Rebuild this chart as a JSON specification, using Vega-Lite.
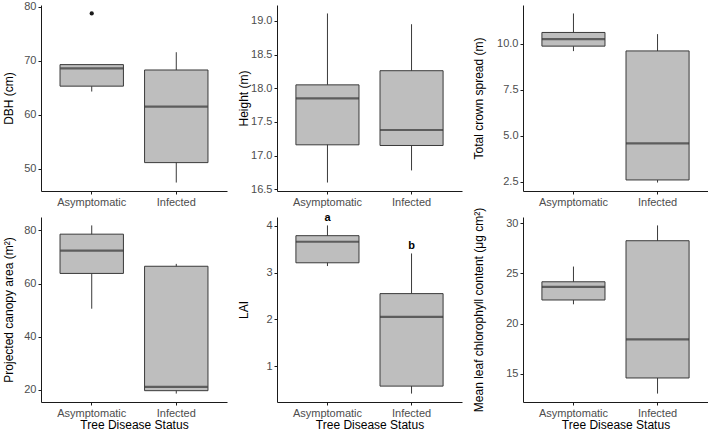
{
  "$schema": "https://vega.github.io/schema/vega-lite/v6.json",
  "padding": {"left": 2, "top": 0, "right": 0, "bottom": 0},
  "columns": 3,
  "align": "each",
  "bounds": "full",
  "spacing": {"row": 0, "column": 10},
  "config": {
    "view": {"stroke": null},
    "font": "Liberation Sans",
    "axis": {
      "grid": false,
      "domainColor": "#1a1a1a",
      "domainWidth": 1,
      "tickColor": "#1a1a1a",
      "tickSize": 3,
      "labelColor": "#4d4d4d",
      "labelFontSize": 11,
      "labelFont": "Liberation Sans",
      "labelPadding": 2,
      "labelOverlap": false,
      "titleFont": "Liberation Sans",
      "titleFontSize": 12,
      "titleFontWeight": "normal",
      "titleColor": "#000000"
    },
    "axisX": {"labelAngle": 0, "minExtent": 16, "maxExtent": 16, "titlePadding": 1}
  },
  "datasets": {
    "boxes": [
      {"panel": "DBH", "status": "Asymptomatic", "lower": 64.3, "q1": 65.3, "median": 68.6, "q3": 69.3, "upper": 69.3},
      {"panel": "DBH", "status": "Infected", "lower": 47.4, "q1": 51.1, "median": 61.5, "q3": 68.3, "upper": 71.6},
      {"panel": "Height", "status": "Asymptomatic", "lower": 16.6, "q1": 17.16, "median": 17.85, "q3": 18.05, "upper": 19.11},
      {"panel": "Height", "status": "Infected", "lower": 16.78, "q1": 17.15, "median": 17.38, "q3": 18.26, "upper": 18.95},
      {"panel": "Crown", "status": "Asymptomatic", "lower": 9.59, "q1": 9.86, "median": 10.24, "q3": 10.6, "upper": 11.63},
      {"panel": "Crown", "status": "Infected", "lower": 2.47, "q1": 2.61, "median": 4.59, "q3": 9.6, "upper": 10.51},
      {"panel": "Canopy", "status": "Asymptomatic", "lower": 50.5, "q1": 63.8, "median": 72.4, "q3": 78.6, "upper": 81.9},
      {"panel": "Canopy", "status": "Infected", "lower": 18.5, "q1": 19.6, "median": 21.0, "q3": 66.5, "upper": 67.4},
      {"panel": "LAI", "status": "Asymptomatic", "lower": 3.14, "q1": 3.21, "median": 3.66, "q3": 3.79, "upper": 4.01, "letter": "a"},
      {"panel": "LAI", "status": "Infected", "lower": 0.41, "q1": 0.57, "median": 2.05, "q3": 2.55, "upper": 3.41, "letter": "b"},
      {"panel": "Chl", "status": "Asymptomatic", "lower": 21.92, "q1": 22.35, "median": 23.67, "q3": 24.17, "upper": 25.69},
      {"panel": "Chl", "status": "Infected", "lower": 13.0, "q1": 14.56, "median": 18.41, "q3": 28.27, "upper": 29.8}
    ],
    "outliers": [
      {"panel": "DBH", "status": "Asymptomatic", "value": 78.8}
    ]
  },
  "concat": [
    {
      "width": 186, "height": 186,
      "data": {"name": "boxes"},
      "transform": [{"filter": "datum.panel === 'DBH'"}],
      "encoding": {"x": {"field": "status", "type": "nominal", "scale": {"paddingInner": 0.25, "paddingOuter": 0.225}, "axis": {"title": null}}},
      "layer": [
        {"mark": {"type": "rule", "color": "#3a3a3a", "strokeWidth": 1},
         "encoding": {"y": {"field": "lower", "type": "quantitative", "title": "DBH (cm)",
           "scale": {"domain": [45.83, 80.37], "nice": false, "zero": false},
           "axis": {"values": [50, 60, 70, 80], "tickCount": 10, "format": "d", "minExtent": 18, "maxExtent": 18, "titlePadding": 8}},
           "y2": {"field": "upper"}}},
        {"mark": {"type": "bar", "fill": "#bebebe", "stroke": "#3a3a3a", "strokeWidth": 1},
         "encoding": {"y": {"field": "q1", "type": "quantitative", "title": "DBH (cm)"}, "y2": {"field": "q3"}}},
        {"mark": {"type": "tick", "color": "#333333", "thickness": 2.2, "size": 63},
         "encoding": {"y": {"field": "median", "type": "quantitative", "title": "DBH (cm)"}}},
        {"data": {"name": "outliers"},
         "transform": [{"filter": "datum.panel === 'DBH'"}],
         "mark": {"type": "point", "filled": true, "color": "#1a1a1a", "size": 18, "opacity": 1},
         "encoding": {"y": {"field": "value", "type": "quantitative", "title": "DBH (cm)"}}}
      ]
    },
    {
      "width": 185, "height": 186,
      "data": {"name": "boxes"},
      "transform": [{"filter": "datum.panel === 'Height'"}],
      "encoding": {"x": {"field": "status", "type": "nominal", "scale": {"paddingInner": 0.25, "paddingOuter": 0.225}, "axis": {"title": null}}},
      "layer": [
        {"mark": {"type": "rule", "color": "#3a3a3a", "strokeWidth": 1},
         "encoding": {"y": {"field": "lower", "type": "quantitative", "title": "Height (m)",
           "scale": {"domain": [16.4745, 19.2355], "nice": false, "zero": false},
           "axis": {"values": [16.5, 17.0, 17.5, 18.0, 18.5, 19.0], "tickCount": 10, "format": ".1f", "minExtent": 27, "maxExtent": 27, "titlePadding": 0}},
           "y2": {"field": "upper"}}},
        {"mark": {"type": "bar", "fill": "#bebebe", "stroke": "#3a3a3a", "strokeWidth": 1},
         "encoding": {"y": {"field": "q1", "type": "quantitative", "title": "Height (m)"}, "y2": {"field": "q3"}}},
        {"mark": {"type": "tick", "color": "#333333", "thickness": 2.2, "size": 63},
         "encoding": {"y": {"field": "median", "type": "quantitative", "title": "Height (m)"}}}
      ]
    },
    {
      "width": 185, "height": 186,
      "data": {"name": "boxes"},
      "transform": [{"filter": "datum.panel === 'Crown'"}],
      "encoding": {"x": {"field": "status", "type": "nominal", "scale": {"paddingInner": 0.25, "paddingOuter": 0.225}, "axis": {"title": null}}},
      "layer": [
        {"mark": {"type": "rule", "color": "#3a3a3a", "strokeWidth": 1},
         "encoding": {"y": {"field": "lower", "type": "quantitative", "title": "Total crown spread (m)",
           "scale": {"domain": [2.012, 12.088], "nice": false, "zero": false},
           "axis": {"values": [2.5, 5.0, 7.5, 10.0], "tickCount": 10, "format": ".1f", "minExtent": 27, "maxExtent": 27, "titlePadding": 11}},
           "y2": {"field": "upper"}}},
        {"mark": {"type": "bar", "fill": "#bebebe", "stroke": "#3a3a3a", "strokeWidth": 1},
         "encoding": {"y": {"field": "q1", "type": "quantitative", "title": "Total crown spread (m)"}, "y2": {"field": "q3"}}},
        {"mark": {"type": "tick", "color": "#333333", "thickness": 2.2, "size": 63},
         "encoding": {"y": {"field": "median", "type": "quantitative", "title": "Total crown spread (m)"}}}
      ]
    },
    {
      "width": 186, "height": 185,
      "data": {"name": "boxes"},
      "transform": [{"filter": "datum.panel === 'Canopy'"}],
      "encoding": {"x": {"field": "status", "type": "nominal", "scale": {"paddingInner": 0.25, "paddingOuter": 0.225}, "axis": {"title": "Tree Disease Status"}}},
      "layer": [
        {"mark": {"type": "rule", "color": "#3a3a3a", "strokeWidth": 1},
         "encoding": {"y": {"field": "lower", "type": "quantitative", "title": "Projected canopy area (m²)",
           "scale": {"domain": [15.33, 85.07], "nice": false, "zero": false},
           "axis": {"values": [20, 40, 60, 80], "tickCount": 10, "format": "d", "minExtent": 18, "maxExtent": 18, "titlePadding": 8}},
           "y2": {"field": "upper"}}},
        {"mark": {"type": "bar", "fill": "#bebebe", "stroke": "#3a3a3a", "strokeWidth": 1},
         "encoding": {"y": {"field": "q1", "type": "quantitative", "title": "Projected canopy area (m²)"}, "y2": {"field": "q3"}}},
        {"mark": {"type": "tick", "color": "#333333", "thickness": 2.2, "size": 63},
         "encoding": {"y": {"field": "median", "type": "quantitative", "title": "Projected canopy area (m²)"}}}
      ]
    },
    {
      "width": 185, "height": 185,
      "data": {"name": "boxes"},
      "transform": [{"filter": "datum.panel === 'LAI'"}],
      "encoding": {"x": {"field": "status", "type": "nominal", "scale": {"paddingInner": 0.25, "paddingOuter": 0.225}, "axis": {"title": "Tree Disease Status"}}},
      "layer": [
        {"mark": {"type": "rule", "color": "#3a3a3a", "strokeWidth": 1},
         "encoding": {"y": {"field": "lower", "type": "quantitative", "title": "LAI",
           "scale": {"domain": [0.23, 4.19], "nice": false, "zero": false},
           "axis": {"values": [1, 2, 3, 4], "tickCount": 10, "format": "d", "minExtent": 27, "maxExtent": 27, "titlePadding": 0}},
           "y2": {"field": "upper"}}},
        {"mark": {"type": "bar", "fill": "#bebebe", "stroke": "#3a3a3a", "strokeWidth": 1},
         "encoding": {"y": {"field": "q1", "type": "quantitative", "title": "LAI"}, "y2": {"field": "q3"}}},
        {"mark": {"type": "tick", "color": "#333333", "thickness": 2.2, "size": 63},
         "encoding": {"y": {"field": "median", "type": "quantitative", "title": "LAI"}}},
        {"mark": {"type": "text", "dy": -7, "baseline": "middle", "fontWeight": "bold", "fontSize": 11, "color": "#000000"},
         "encoding": {"y": {"field": "upper", "type": "quantitative", "title": "LAI"}, "text": {"field": "letter"}}}
      ]
    },
    {
      "width": 185, "height": 185,
      "data": {"name": "boxes"},
      "transform": [{"filter": "datum.panel === 'Chl'"}],
      "encoding": {"x": {"field": "status", "type": "nominal", "scale": {"paddingInner": 0.25, "paddingOuter": 0.225}, "axis": {"title": "Tree Disease Status"}}},
      "layer": [
        {"mark": {"type": "rule", "color": "#3a3a3a", "strokeWidth": 1},
         "encoding": {"y": {"field": "lower", "type": "quantitative", "title": "Mean leaf chlorophyll content (μg cm²)",
           "scale": {"domain": [12.16, 30.64], "nice": false, "zero": false},
           "axis": {"values": [15, 20, 25, 30], "tickCount": 10, "format": "d", "minExtent": 27, "maxExtent": 27, "titlePadding": 11}},
           "y2": {"field": "upper"}}},
        {"mark": {"type": "bar", "fill": "#bebebe", "stroke": "#3a3a3a", "strokeWidth": 1},
         "encoding": {"y": {"field": "q1", "type": "quantitative", "title": "Mean leaf chlorophyll content (μg cm²)"}, "y2": {"field": "q3"}}},
        {"mark": {"type": "tick", "color": "#333333", "thickness": 2.2, "size": 63},
         "encoding": {"y": {"field": "median", "type": "quantitative", "title": "Mean leaf chlorophyll content (μg cm²)"}}}
      ]
    }
  ]
}
